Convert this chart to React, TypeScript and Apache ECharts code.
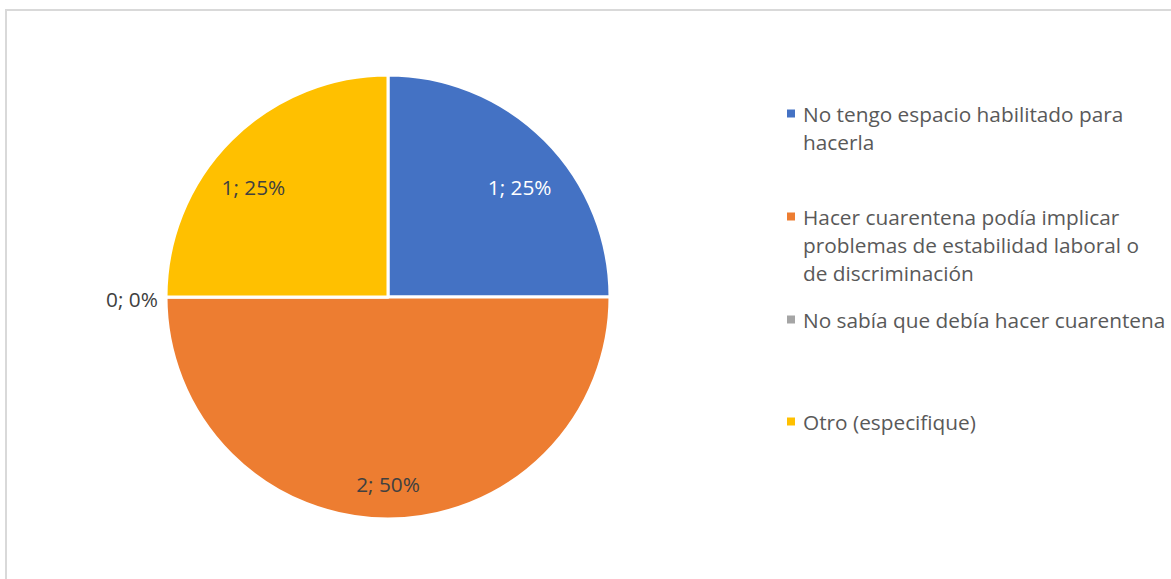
import React, { useEffect, useRef } from "react";
import * as echarts from "echarts";

const categories = [
  "No tengo espacio habilitado para\nhacerla",
  "Hacer cuarentena podía implicar\nproblemas de estabilidad laboral o\nde discriminación",
  "No sabía que debía hacer cuarentena",
  "Otro (especifique)",
];
const values = [1, 2, 0, 1];
const colors = ["#4472C4", "#ED7D31", "#A5A5A5", "#FFC000"];
const labelColors = ["#ffffff", "#404040", "#404040", "#404040"];
const labelOffsets: [number, number][] = [
  [51, -29],
  [0, 73],
  [-142, 2],
  [-54, -29],
];
const legendTops = [103, 206, 309, 411];

const FONT = "'Open Sans', 'Noto Sans', sans-serif";
const FS = 20.8;

export default function App() {
  const ref = useRef<HTMLDivElement>(null);
  useEffect(() => {
    if (!ref.current) return;
    const chart = echarts.init(ref.current, undefined, { renderer: "svg" });
    const legends = categories.map((name, i) => {
      const lines = name.split("\n");
      const rich: any = {
        sq: { width: 8, height: 8, backgroundColor: colors[i], verticalAlign: "middle" },
        gap: { width: 8 },
        ind: { width: 16 },
        t: { fontSize: FS, lineHeight: 28, color: "#595959", fontFamily: FONT },
      };
      return {
        data: [name],
        orient: "vertical",
        left: 781,
        top: legendTops[i],
        padding: 0,
        itemWidth: 0,
        itemHeight: 0,
        icon: "rect",
        selectedMode: false,
        textStyle: { rich, fontFamily: FONT, fontSize: FS, color: "#595959" },
        formatter: () =>
          lines
            .map((l, k) => (k === 0 ? `{sq| }{gap|}{t|${l}}` : `{ind|}{t|${l}}`))
            .join("\n"),
      };
    });
    chart.setOption({
      animation: false,
      color: colors,
      graphic: [
        {
          type: "rect",
          shape: { x: 6, y: 10, width: 1300, height: 700 },
          style: { fill: "none", stroke: "#d9d9d9", lineWidth: 2 },
          silent: true,
        },
      ],
      legend: legends,
      series: [
        {
          type: "pie",
          center: [388, 297],
          radius: 222,
          startAngle: 90,
          clockwise: true,
          avoidLabelOverlap: false,
          itemStyle: { borderColor: "#ffffff", borderWidth: 3 },
          emphasis: { disabled: true },
          labelLine: { show: false },
          data: categories.map((name, i) => ({
            name,
            value: values[i],
            label: {
              show: true,
              position: "inside",
              offset: labelOffsets[i],
              color: labelColors[i],
              fontSize: FS,
              fontFamily: FONT,
            },
          })),
          label: {
            formatter: (p: any) => `${p.value}; ${Math.round(p.percent)}%`,
          },
        },
      ],
    });
    return () => chart.dispose();
  }, []);
  return (
    <div
      ref={ref}
      style={{ position: "absolute", left: 0, top: 0, width: 1171, height: 579, background: "#fff" }}
    />
  );
}
